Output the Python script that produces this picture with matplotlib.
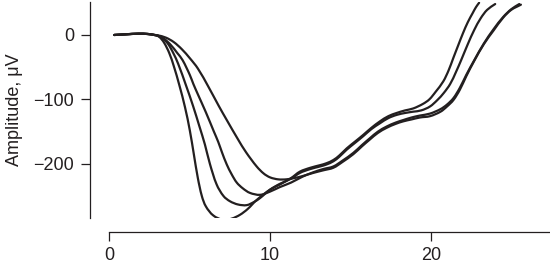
import numpy as np
import matplotlib
matplotlib.use('Agg')
import matplotlib.pyplot as plt
from matplotlib.path import Path
from matplotlib.patches import PathPatch

# time (ms) and amplitude (uV), one pair of lists per trace
t_a = [0.3, 1.0, 1.8, 2.4, 2.8, 3.1, 3.4, 3.72, 4.0, 4.35, 4.7, 5.0, 5.25, 5.5,
       5.75, 6.0, 6.46, 7.08, 7.6, 8.12, 8.6, 9.16, 9.99, 10.6, 11.3, 11.85, 12.5,
       13.1, 13.5, 13.93, 14.3, 14.76, 15.3, 15.79, 16.3, 16.83, 17.35, 17.87,
       18.4, 18.9, 19.5, 19.9, 20.3, 20.77, 21.1, 21.39, 21.7, 22.0, 22.3,
       22.6, 22.8, 23.0]
v_a = [0, 1, 2, 1.5, 0, -3, -12, -28, -48, -78, -112, -148, -185, -222,
       -250, -266, -280, -287, -285, -279, -270, -256, -240, -232, -222, -212, -206,
       -202, -199, -194, -187, -176, -165, -155, -144, -134, -126, -121,
       -117, -114, -107, -100, -88, -72, -55, -36, -16, 3, 20,
       34, 43, 50]

t_b = [0.3, 1.0, 1.8, 2.4, 2.8, 3.0, 3.3, 3.65, 3.97, 4.28, 4.76, 5.2, 5.6, 5.94,
       6.25, 6.67, 7.1, 7.5, 8.0, 8.54, 9.0, 9.37, 9.99, 10.6, 11.3, 11.85, 12.5,
       13.1, 13.5, 13.93, 14.3, 14.76, 15.3, 15.79, 16.3, 16.83, 17.35, 17.87,
       18.4, 18.9, 19.4, 19.94, 20.4, 20.8, 21.2, 21.55, 21.9, 22.3, 22.7, 23.1,
       23.5, 24.0]
v_b = [0, 1, 2, 1.5, 0, -1, -5, -14, -28, -45, -78, -110, -142, -170,
       -200, -232, -250, -258, -263, -264, -259, -253, -240, -231, -223, -214, -208,
       -204, -201, -196, -189, -178, -167, -157, -146, -137, -129, -124,
       -121, -119, -117, -111, -101, -90, -76, -58, -38, -14, 8, 26,
       39, 48]

t_c = [0.3, 1.0, 1.8, 2.4, 2.8, 3.0, 3.4, 3.8, 4.22, 4.55, 5.0, 5.22, 5.5, 6.0,
       6.5, 6.77, 7.0, 7.3, 7.6, 7.92, 8.3, 8.74, 9.37, 9.99, 10.6, 11.3, 12.0,
       12.68, 13.3, 13.93, 14.5, 15.17, 15.7, 16.21, 16.7, 17.25, 17.8, 18.28,
       18.8, 19.32, 19.94, 20.6, 21.0, 21.4, 21.8, 22.2, 22.7, 23.3, 23.9, 24.5,
       25.0, 25.5]
v_c = [0, 1, 2, 1.5, 0, -1, -6, -15, -28, -39, -62, -76, -92, -120,
       -150, -166, -182, -201, -216, -229, -238, -245, -248, -243, -236, -229, -220,
       -213, -208, -204, -195, -183, -171, -160, -150, -142, -136, -132,
       -128, -125, -122, -115, -108, -98, -82, -62, -39, -13, 9, 28,
       40, 48]

t_d = [0.3, 1.0, 1.8, 2.4, 2.8, 3.0, 3.5, 4.0, 4.5, 5.0, 5.5, 6.15, 6.8, 7.3,
       8.0, 8.5, 9.16, 9.6, 10.0, 10.5, 11.0, 11.5, 12.0, 12.68, 13.3, 13.93, 14.5,
       15.17, 15.7, 16.21, 16.7, 17.25, 17.8, 18.28, 18.8, 19.32, 19.94, 20.6,
       21.0, 21.4, 21.8, 22.2, 22.7, 23.3, 23.9, 24.5, 25.0, 25.6]
v_d = [0, 1, 2, 1.5, 0, -0.5, -4, -11, -22, -36, -52, -80, -110, -132,
       -162, -182, -204, -215, -221, -224, -224, -222, -219, -214, -210, -206, -197,
       -185, -173, -162, -152, -144, -138, -134, -131, -128, -126, -119,
       -111, -101, -85, -64, -40, -14, 7, 27, 39, 47]

x_ticks = [0, 10, 20]
y_ticks = [0, -100, -200]

plt.rcParams['font.family'] = ['Liberation Sans', 'DejaVu Sans']
plt.rcParams['font.size'] = 13

ink = '#231f20'


def smooth_path(t, v, sx=16.07, sy=0.645):
    # pass a bezier curve through the read points (tangents in pixel space)
    p = np.column_stack([np.asarray(t) * sx, np.asarray(v) * sy])
    tan = np.zeros_like(p)
    tan[1:-1] = p[2:] - p[:-2]
    tan[0] = p[1] - p[0]
    tan[-1] = p[-1] - p[-2]
    tan /= np.linalg.norm(tan, axis=1)[:, None]
    verts = [p[0]]
    codes = [Path.MOVETO]
    for i in range(len(p) - 1):
        d = np.linalg.norm(p[i + 1] - p[i]) / 3
        verts += [p[i] + tan[i] * d, p[i + 1] - tan[i + 1] * d, p[i + 1]]
        codes += [Path.CURVE4] * 3
    verts = np.array(verts) / [sx, sy]
    return Path(verts, codes)


fig = plt.figure(figsize=(5.5, 2.63), dpi=100)
ax = fig.add_axes([0.199, 0.171, 0.801, 0.821])

for t, v in [(t_a, v_a), (t_b, v_b), (t_c, v_c), (t_d, v_d)]:
    ax.add_patch(PathPatch(smooth_path(t, v), fill=False, ec=ink, lw=1.6,
                           capstyle='round'))

ax.set_xlim(0, 27.41)
ax.set_ylim(-284, 51)
ax.set_xticks(x_ticks)
ax.set_yticks(y_ticks)

for side in ['top', 'right']:
    ax.spines[side].set_visible(False)
ax.spines['left'].set_position(('outward', 14))
ax.spines['bottom'].set_position(('outward', 10))
for side in ['left', 'bottom']:
    ax.spines[side].set_linewidth(0.9)
    ax.spines[side].set_color(ink)

ax.tick_params(axis='both', direction='out', length=6.5, width=0.9,
               colors=ink, labelcolor=ink)
ax.tick_params(axis='y', pad=5)
ax.tick_params(axis='x', pad=4.5)

ax.set_ylabel('Amplitude, \u03bcV', color=ink)
ax.yaxis.set_label_coords(-0.197, 0.5)

fig.savefig('out.png', dpi=100)
